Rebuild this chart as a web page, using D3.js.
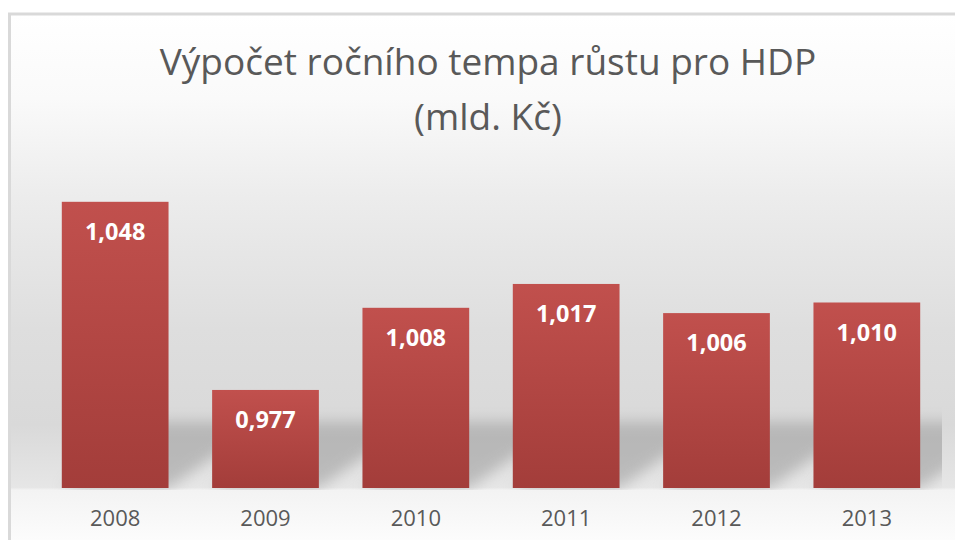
<!DOCTYPE html>
<html>
<head>
<meta charset="utf-8">
<script src="https://cdn.jsdelivr.net/npm/d3@7"></script>
<style>
body { margin:0; background:#ffffff; }
svg { display:block; }
.title { font-family:"Open Sans", sans-serif; fill:#595959; font-size:37px; }
.yearLabel { font-family:"Open Sans", sans-serif; fill:#595959; font-size:22px; }
.valueLabel { font-family:"Open Sans", sans-serif; fill:#ffffff; font-size:23.5px; font-weight:bold; }
</style>
</head>
<body>
<svg id="hdpgraph"></svg>
<script>
// data
var years = ["2008","2009","2010","2011","2012","2013"];
var values = [1.048, 0.977, 1.008, 1.017, 1.006, 1.010];
var valueLabels = ["1,048","0,977","1,008","1,017","1,006","1,010"];
var titleLines = ["Výpočet ročního tempa růstu pro HDP","(mld. Kč)"];
var yDomain = [0.94, 1.06];

var screen = {width:955, height:540};
var plot = {left:40, right:942, top:170, bottom:488};

var svg = d3.select("#hdpgraph")
    .attr("width", screen.width)
    .attr("height", screen.height);

var defs = svg.append("defs");

// chart background gradient
var bg = defs.append("linearGradient")
    .attr("id","bgGrad")
    .attr("gradientUnits","userSpaceOnUse")
    .attr("x1",0).attr("y1",14).attr("x2",0).attr("y2",540);
[[0,"#ffffff"],[0.16,"#fafafa"],[0.35,"#ececec"],[0.6,"#dedede"],[0.78,"#d9d9d9"],[0.9,"#e6e6e6"],[0.905,"#f3f3f3"],[1,"#fcfcfc"]]
    .forEach(function(s){ bg.append("stop").attr("offset",s[0]).attr("stop-color",s[1]); });

// bar gradient
var barGrad = defs.append("linearGradient")
    .attr("id","barGrad")
    .attr("x1",0).attr("y1",0).attr("x2",0).attr("y2",1);
barGrad.append("stop").attr("offset",0).attr("stop-color","#c1504d");
barGrad.append("stop").attr("offset",1).attr("stop-color","#a33d3a");

// blur for floor shadow
defs.append("filter")
    .attr("id","blur")
    .attr("x","-50%").attr("y","-50%").attr("width","200%").attr("height","200%")
    .append("feGaussianBlur").attr("stdDeviation",7);

defs.append("clipPath").attr("id","plotClip")
    .append("rect")
    .attr("x",plot.left).attr("y",plot.top)
    .attr("width",plot.right-plot.left).attr("height",plot.bottom-plot.top+2);

// background + border
svg.append("rect")
    .attr("x",9.5).attr("y",14)
    .attr("width",1000).attr("height",600)
    .attr("fill","url(#bgGrad)")
    .attr("stroke","#d9d9d9")
    .attr("stroke-width",3);

var xScale = d3.scaleBand()
    .domain(years)
    .range([plot.left, plot.right])
    .paddingInner(0.29)
    .paddingOuter(0.145);

var yScale = d3.scaleLinear()
    .domain(yDomain)
    .range([plot.bottom, plot.top]);

var data = years.map(function(y,i){ return {year:y, value:values[i], label:valueLabels[i]}; });

// shadows cast by the bars
var shadowG = svg.append("g").attr("clip-path","url(#plotClip)");
shadowG.selectAll("path")
    .data(data)
    .enter()
    .append("path")
    .attr("d", function(d){
        var x0 = xScale(d.year), x1 = x0 + xScale.bandwidth();
        var b = yScale(yDomain[0]), t = b - 66;
        return "M"+x0+","+b+"L"+(x0+95)+","+t+"L"+(x1+95)+","+t+"L"+x1+","+b+"Z";
    })
    .attr("fill","#9a9a9a")
    .attr("opacity",0.55)
    .attr("filter","url(#blur)");

// bars
svg.append("g").selectAll("rect")
    .data(data)
    .enter()
    .append("rect")
    .attr("x", function(d){ return xScale(d.year); })
    .attr("y", function(d){ return yScale(d.value); })
    .attr("width", xScale.bandwidth())
    .attr("height", function(d){ return yScale(yDomain[0]) - yScale(d.value); })
    .attr("fill","url(#barGrad)");

// value labels inside bars
svg.append("g").selectAll("text")
    .data(data)
    .enter()
    .append("text")
    .classed("valueLabel",true)
    .attr("text-anchor","middle")
    .attr("x", function(d){ return xScale(d.year) + xScale.bandwidth()/2; })
    .attr("y", function(d){ return yScale(d.value) + 38; })
    .text(function(d){ return d.label; });

// category axis, no line or ticks
var xAxis = d3.axisBottom(xScale).tickSize(0).tickPadding(0);
var axisG = svg.append("g")
    .attr("transform","translate(0,"+plot.bottom+")")
    .call(xAxis);
axisG.select(".domain").remove();
axisG.selectAll("text")
    .attr("class","yearLabel")
    .attr("fill",null)
    .attr("font-size",null)
    .attr("font-family",null)
    .attr("dy",null)
    .attr("y",38);

// title
svg.append("g").selectAll("text")
    .data(titleLines)
    .enter()
    .append("text")
    .classed("title",true)
    .attr("text-anchor","middle")
    .attr("x",488)
    .attr("y", function(d,i){ return 75 + i*55; })
    .text(function(d){ return d; });
</script>
</body>
</html>
